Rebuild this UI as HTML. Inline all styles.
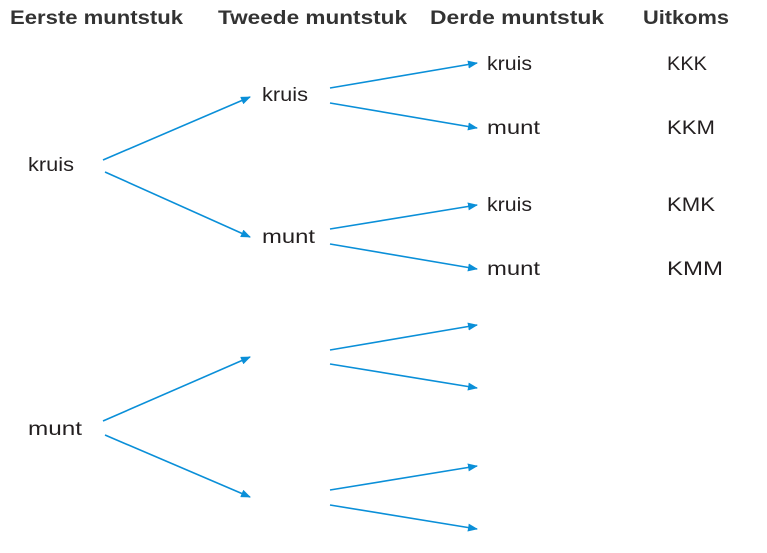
<!DOCTYPE html>
<html><head><style>
body{margin:0;width:767px;height:548px;background:#fff;overflow:hidden;font-family:"Liberation Sans",sans-serif;}
svg text{font-family:"Liberation Sans",sans-serif;fill:#231f20;}
</style></head><body>
<svg width="767" height="548" viewBox="0 0 767 548">
<defs><marker id="a" markerWidth="10" markerHeight="8" refX="9" refY="4" orient="auto" markerUnits="userSpaceOnUse"><path d="M0,0 L10,4 L0,8 Z" fill="#0a8fd8"/></marker></defs>
<g font-size="19" font-weight="bold" fill="#2a2627">
<text x="10" y="24" textLength="173" lengthAdjust="spacingAndGlyphs" style="fill:#333">Eerste muntstuk</text>
<text x="218" y="24" textLength="189" lengthAdjust="spacingAndGlyphs" style="fill:#333">Tweede muntstuk</text>
<text x="430" y="24" textLength="174" lengthAdjust="spacingAndGlyphs" style="fill:#333">Derde muntstuk</text>
<text x="643" y="24" textLength="86" lengthAdjust="spacingAndGlyphs" style="fill:#333">Uitkoms</text>
</g>
<g font-size="19">
<text x="28" y="171" textLength="46" lengthAdjust="spacingAndGlyphs">kruis</text>
<text x="262" y="101" textLength="46" lengthAdjust="spacingAndGlyphs">kruis</text>
<text x="262" y="243" textLength="53" lengthAdjust="spacingAndGlyphs">munt</text>
<text x="487" y="70" textLength="45" lengthAdjust="spacingAndGlyphs">kruis</text>
<text x="487" y="134" textLength="53" lengthAdjust="spacingAndGlyphs">munt</text>
<text x="487" y="211" textLength="45" lengthAdjust="spacingAndGlyphs">kruis</text>
<text x="487" y="275" textLength="53" lengthAdjust="spacingAndGlyphs">munt</text>
<text x="667" y="70" textLength="40" lengthAdjust="spacingAndGlyphs">KKK</text>
<text x="667" y="134" textLength="48" lengthAdjust="spacingAndGlyphs">KKM</text>
<text x="667" y="211" textLength="48" lengthAdjust="spacingAndGlyphs">KMK</text>
<text x="667" y="275" textLength="56" lengthAdjust="spacingAndGlyphs">KMM</text>
<text x="28" y="435" textLength="54" lengthAdjust="spacingAndGlyphs">munt</text>
</g>
<g stroke="#0a8fd8" stroke-width="1.6" fill="none" marker-end="url(#a)">
<line x1="103" y1="160" x2="250" y2="97"/>
<line x1="105" y1="172" x2="250" y2="237"/>
<line x1="330" y1="88" x2="477" y2="63"/>
<line x1="330" y1="103" x2="477" y2="128"/>
<line x1="330" y1="229" x2="477" y2="205"/>
<line x1="330" y1="244" x2="477" y2="269"/>
<line x1="103" y1="421" x2="250" y2="357"/>
<line x1="105" y1="435" x2="250" y2="497"/>
<line x1="330" y1="350" x2="477" y2="325"/>
<line x1="330" y1="364" x2="477" y2="388"/>
<line x1="330" y1="490" x2="477" y2="466"/>
<line x1="330" y1="505" x2="477" y2="529"/>
</g>
</svg>
</body></html>
